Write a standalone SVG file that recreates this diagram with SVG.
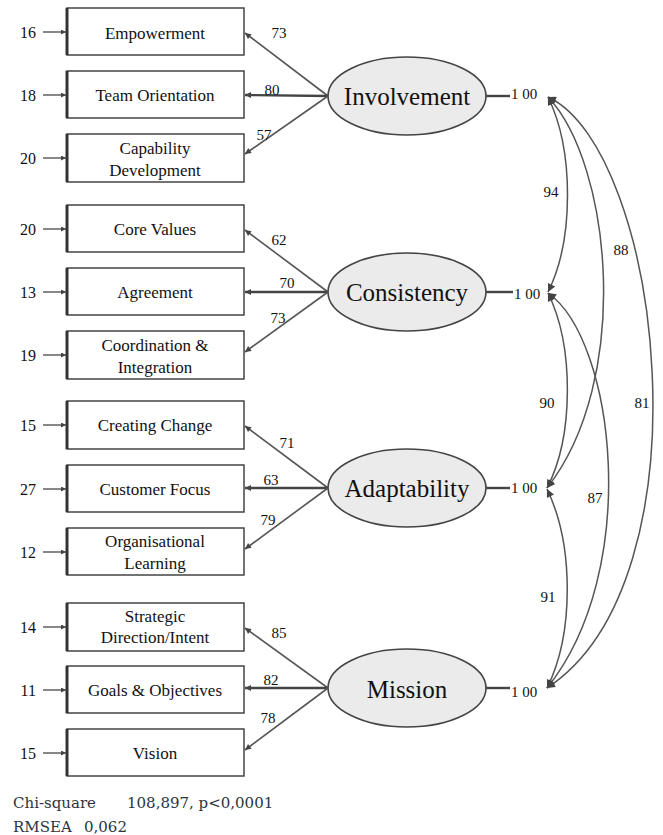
<svg xmlns="http://www.w3.org/2000/svg" width="663" height="835" viewBox="0 0 663 835">
<style>
text{font-family:"Liberation Serif","Times New Roman",serif;fill:#111}
.box{fill:#fff;stroke:#444;stroke-width:1.5}
.bl{stroke:#333;stroke-width:3}
.lbl{font-size:17px;text-anchor:middle}
.err{font-size:16px;text-anchor:end}
.num{font-size:15px;text-anchor:middle}
.ell{fill:#ebebeb;stroke:#444;stroke-width:1.6}
.lat{font-size:25px;text-anchor:middle}
.ln{stroke:#555;stroke-width:1.6;fill:none}
.lnm{stroke:#444;stroke-width:2.4;fill:none}
.ea{stroke:#555;stroke-width:1.4;fill:none}
.cv{stroke:#555;stroke-width:1.5;fill:none}
.fit{font-family:"DejaVu Serif","Liberation Serif",serif;font-size:15px;fill:#2b3440}
</style>
<defs>
<marker id="ah" viewBox="0 0 10 10" refX="10" refY="5" markerWidth="7" markerHeight="6" markerUnits="userSpaceOnUse" orient="auto-start-reverse"><path d="M0,0L10,5L0,10z" fill="#444"/></marker>
<marker id="ahs" viewBox="0 0 10 10" refX="10" refY="5" markerWidth="6" markerHeight="5" markerUnits="userSpaceOnUse" orient="auto"><path d="M0,0L10,5L0,10z" fill="#444"/></marker>
<marker id="ahc" viewBox="0 0 10 10" refX="10" refY="5" markerWidth="9" markerHeight="8" markerUnits="userSpaceOnUse" orient="auto-start-reverse"><path d="M0,0L10,5L0,10z" fill="#444"/></marker>
</defs>

<!-- Involvement group -->
<g id="box-empowerment"><rect class="box" x="67" y="8" width="177" height="47"/><line class="bl" x1="67" y1="8" x2="67" y2="55"/><text class="lbl" x="155" y="39">Empowerment</text></g>
<g id="box-team"><rect class="box" x="67" y="71" width="177" height="47"/><line class="bl" x1="67" y1="71" x2="67" y2="118"/><text class="lbl" x="155" y="101">Team Orientation</text></g>
<g id="box-capability"><rect class="box" x="67" y="134" width="177" height="48"/><line class="bl" x1="67" y1="134" x2="67" y2="182"/><text class="lbl" x="155" y="154">Capability</text><text class="lbl" x="155" y="176">Development</text></g>

<g id="box-core"><rect class="box" x="67" y="205" width="177" height="47"/><line class="bl" x1="67" y1="205" x2="67" y2="252"/><text class="lbl" x="155" y="235">Core Values</text></g>
<g id="box-agreement"><rect class="box" x="67" y="268" width="177" height="47"/><line class="bl" x1="67" y1="268" x2="67" y2="315"/><text class="lbl" x="155" y="298">Agreement</text></g>
<g id="box-coord"><rect class="box" x="67" y="331" width="177" height="48"/><line class="bl" x1="67" y1="331" x2="67" y2="379"/><text class="lbl" x="155" y="351">Coordination &amp;</text><text class="lbl" x="155" y="373">Integration</text></g>

<g id="box-change"><rect class="box" x="67" y="401" width="177" height="48"/><line class="bl" x1="67" y1="401" x2="67" y2="449"/><text class="lbl" x="155" y="431">Creating Change</text></g>
<g id="box-customer"><rect class="box" x="67" y="465" width="177" height="47"/><line class="bl" x1="67" y1="465" x2="67" y2="512"/><text class="lbl" x="155" y="495">Customer Focus</text></g>
<g id="box-learning"><rect class="box" x="67" y="528" width="177" height="47"/><line class="bl" x1="67" y1="528" x2="67" y2="575"/><text class="lbl" x="155" y="547">Organisational</text><text class="lbl" x="155" y="569">Learning</text></g>

<g id="box-strategic"><rect class="box" x="67" y="603" width="177" height="48"/><line class="bl" x1="67" y1="603" x2="67" y2="651"/><text class="lbl" x="155" y="622">Strategic</text><text class="lbl" x="155" y="643">Direction/Intent</text></g>
<g id="box-goals"><rect class="box" x="67" y="666" width="177" height="47"/><line class="bl" x1="67" y1="666" x2="67" y2="713"/><text class="lbl" x="155" y="696">Goals &amp; Objectives</text></g>
<g id="box-vision"><rect class="box" x="67" y="729" width="177" height="47"/><line class="bl" x1="67" y1="729" x2="67" y2="776"/><text class="lbl" x="155" y="759">Vision</text></g>

<!-- latent nodes -->
<g id="lat-involvement"><ellipse class="ell" cx="407" cy="96" rx="79" ry="39"/><text class="lat" x="407" y="105">Involvement</text></g>
<g id="lat-consistency"><ellipse class="ell" cx="407" cy="292" rx="79" ry="39"/><text class="lat" x="407" y="301">Consistency</text></g>
<g id="lat-adaptability"><ellipse class="ell" cx="407" cy="488" rx="79" ry="39"/><text class="lat" x="407" y="497">Adaptability</text></g>
<g id="lat-mission"><ellipse class="ell" cx="407" cy="688" rx="79" ry="39"/><text class="lat" x="407" y="698">Mission</text></g>

<!-- error terms -->
<g id="errors">
<text class="err" x="36" y="38">16</text>
<text class="err" x="36" y="101">18</text>
<text class="err" x="36" y="164">20</text>
<text class="err" x="36" y="235">20</text>
<text class="err" x="36" y="298">13</text>
<text class="err" x="36" y="361">19</text>
<text class="err" x="36" y="431">15</text>
<text class="err" x="36" y="495">27</text>
<text class="err" x="36" y="558">12</text>
<text class="err" x="36" y="633">14</text>
<text class="err" x="36" y="696">11</text>
<text class="err" x="36" y="759">15</text>
</g>

<g id="connectors">
<!-- error arrows -->
<g marker-end="url(#ahs)">
<line class="ea" x1="43" y1="32" x2="66" y2="32"/>
<line class="ea" x1="43" y1="95" x2="66" y2="95"/>
<line class="ea" x1="43" y1="158" x2="66" y2="158"/>
<line class="ea" x1="43" y1="229" x2="66" y2="229"/>
<line class="ea" x1="43" y1="292" x2="66" y2="292"/>
<line class="ea" x1="43" y1="355" x2="66" y2="355"/>
<line class="ea" x1="43" y1="425" x2="66" y2="425"/>
<line class="ea" x1="43" y1="489" x2="66" y2="489"/>
<line class="ea" x1="43" y1="552" x2="66" y2="552"/>
<line class="ea" x1="43" y1="627" x2="66" y2="627"/>
<line class="ea" x1="43" y1="690" x2="66" y2="690"/>
<line class="ea" x1="43" y1="753" x2="66" y2="753"/>
</g>
<!-- loadings -->
<g marker-end="url(#ah)">
<line class="ln" x1="328" y1="96" x2="245" y2="33"/>
<line class="lnm" x1="328" y1="96" x2="245" y2="95"/>
<line class="ln" x1="328" y1="96" x2="245" y2="154"/>
<line class="ln" x1="328" y1="292" x2="245" y2="230"/>
<line class="lnm" x1="328" y1="292" x2="245" y2="292"/>
<line class="ln" x1="328" y1="292" x2="245" y2="352"/>
<line class="ln" x1="328" y1="488" x2="245" y2="426"/>
<line class="lnm" x1="328" y1="488" x2="245" y2="488"/>
<line class="ln" x1="328" y1="488" x2="245" y2="549"/>
<line class="ln" x1="328" y1="688" x2="245" y2="628"/>
<line class="lnm" x1="328" y1="688" x2="245" y2="688"/>
<line class="ln" x1="328" y1="688" x2="245" y2="750"/>
</g>
<!-- variance stubs -->
<line class="lnm" x1="486" y1="96" x2="510" y2="96"/>
<line class="lnm" x1="486" y1="292" x2="513" y2="292"/>
<line class="lnm" x1="486" y1="488" x2="510" y2="488"/>
<line class="lnm" x1="486" y1="688" x2="510" y2="688"/>
<!-- covariances -->
<g marker-start="url(#ahc)" marker-end="url(#ahc)">
<path class="cv" d="M548,97 C574,150 574,240 548,292"/>
<path class="cv" d="M548,293 C574,346 574,436 547,488"/>
<path class="cv" d="M547,489 C574,545 574,634 547,688"/>
<path class="cv" d="M548,97 C612,165 632,380 547,488"/>
<path class="cv" d="M548,293 C615,340 642,570 547,688"/>
<path class="cv" d="M548,97 C662,150 712,580 547,688"/>
</g>
</g>

<!-- loading labels -->
<g id="loading-labels">
<text class="num" x="279" y="38">73</text>
<text class="num" x="272" y="95">80</text>
<text class="num" x="264" y="140">57</text>
<text class="num" x="279" y="245">62</text>
<text class="num" x="287" y="288">70</text>
<text class="num" x="278" y="323">73</text>
<text class="num" x="287" y="448">71</text>
<text class="num" x="271" y="485">63</text>
<text class="num" x="268" y="525">79</text>
<text class="num" x="279" y="638">85</text>
<text class="num" x="271" y="685">82</text>
<text class="num" x="268" y="723">78</text>
</g>

<!-- variance and covariance labels -->
<g id="cov-labels">
<text class="num" x="524" y="99">1 00</text>
<text class="num" x="527" y="299">1 00</text>
<text class="num" x="524" y="493">1 00</text>
<text class="num" x="524" y="697">1 00</text>
<text class="num" x="551" y="197">94</text>
<text class="num" x="621" y="255">88</text>
<text class="num" x="547" y="408">90</text>
<text class="num" x="642" y="408">81</text>
<text class="num" x="595" y="503">87</text>
<text class="num" x="548" y="602">91</text>
</g>

<g id="fit-stats">
<text class="fit" x="13" y="808">Chi-square</text>
<text class="fit" x="127" y="808">108,897, p&lt;0,0001</text>
<text class="fit" x="13" y="832">RMSEA</text>
<text class="fit" x="84" y="832">0,062</text>
</g>
</svg>
